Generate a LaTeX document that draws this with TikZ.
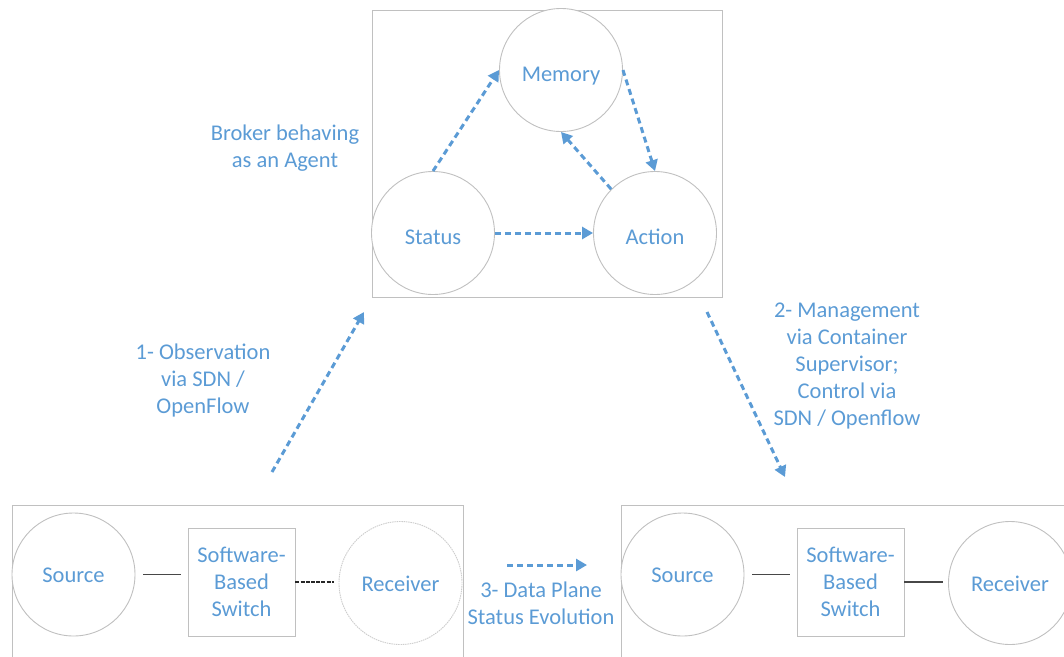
\documentclass[tikz,border=0pt]{standalone}
\usepackage{fontspec}
\setmainfont{Carlito}
\usetikzlibrary{arrows.meta}
\definecolor{ablue}{HTML}{5B9BD5}
\definecolor{lgray}{HTML}{C0C0C0}
\definecolor{dgray}{HTML}{474747}
\tikzset{
  txt/.style={text=ablue, font=\fontsize{22.5}{27}\selectfont, align=center, inner sep=0pt},
  circ/.style={circle, draw=lgray, line width=0.9pt, minimum size=123pt, inner sep=0pt, fill=white},
  swbox/.style={rectangle, draw=lgray, line width=0.9pt, minimum width=107pt, minimum height=108pt, inner sep=0pt, text=ablue, font=\fontsize{22.5}{27}\selectfont, align=center},
  frame/.style={draw=lgray, line width=0.9pt},
  barrow/.style={draw=ablue, line width=3pt, dash pattern=on 6pt off 4pt, -{Triangle[length=11pt,width=12pt]}},
  link/.style={draw=dgray, line width=1.5pt},
}
\begin{document}
\begin{tikzpicture}[x=1pt,y=-1pt]
\useasboundingbox (0,0) rectangle (1064,656);
% top box
\draw[frame] (372,10) rectangle (722,297);
\node[circ, label={[txt,yshift=-6.5pt]center:Memory}] (memory) at (561,70) {};
\node[circ, label={[txt,yshift=-4.5pt]center:Status}] (status) at (433,233) {};
\node[circ, label={[txt,yshift=-4pt]center:Action}] (action) at (655,233) {};
\draw[barrow] (status.north) -- (memory.west);
\draw[barrow] (memory.east) -- (action.north);
\draw[barrow] (action.135) -- (memory.south);
\draw[barrow] (status.east) -- (action.west);
\node[txt] (broker) at (285,148.5) {Broker behaving\\as an Agent};

% bottom left
\draw[frame] (12,505) -- (12,670) (12,505) -- (463,505) -- (463,670);
\node[circ] (src1) at (73.5,574.5) {};
\node[txt] (src1t) at (73.5,575) {Source};
\node[swbox] (sw1) at (241.5,582) {Software-\\Based\\Switch};
\node[circ, draw=lgray!80, dash pattern=on 1.5pt off 0.8pt] (rcv1) at (400.5,583) {};
\node[txt] (rcv1t) at (400.5,584) {Receiver};
\draw[link] ([xshift=8pt]src1.east) -- ([xshift=-7pt]sw1.west |- src1.east);
\draw[link, draw=black!85, dash pattern=on 4pt off 1.2pt] (sw1.east) -- ([xshift=-5pt]rcv1.west |- sw1.east);

% bottom right
\draw[frame] (621,505) -- (621,670) (621,505) -- (1070,505);
\node[circ] (src2) at (682.5,574.5) {};
\node[txt] (src2t) at (682.5,575) {Source};
\node[swbox] (sw2) at (850.5,582) {Software-\\Based\\Switch};
\node[circ] (rcv2) at (1010,583) {};
\node[txt] (rcv2t) at (1010,584) {Receiver};
\draw[link] ([xshift=8pt]src2.east) -- ([xshift=-7pt]sw2.west |- src2.east);
\draw[link] (sw2.east) -- ([xshift=-5pt]rcv2.west |- sw2.east);

% big arrows
\coordinate (a1s) at (272,472);
\coordinate (a1e) at (364,312);
\draw[barrow] (a1s) -- (a1e);
\node[txt] (obs) at (203,380) {1- Observation\\via SDN /\\OpenFlow};

\coordinate (a2s) at (707,312);
\coordinate (a2e) at (785,477);
\draw[barrow] (a2s) -- (a2e);
\node[txt] (mgmt) at (847,366) {2- Management\\via Container\\Supervisor;\\Control via\\SDN / Openflow};

\coordinate (a3s) at (507,565);
\coordinate (a3e) at (587,565);
\draw[barrow] (a3s) -- (a3e);
\node[txt] (dp) at (541,603.5) {3- Data Plane\\Status Evolution};
\end{tikzpicture}
\end{document}
